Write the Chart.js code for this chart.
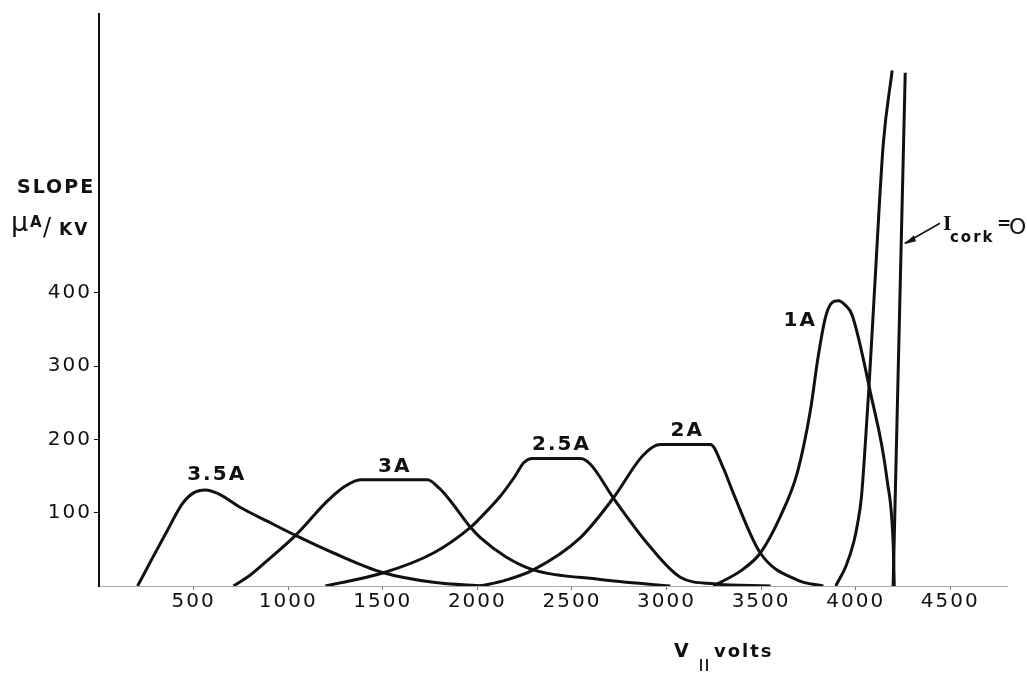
<!DOCTYPE html>
<html>
<head>
<meta charset="utf-8">
<script src="https://cdn.jsdelivr.net/npm/chart.js@4.4.0/dist/chart.umd.min.js"></script>
<style>
  body { margin: 0; background: #fff; }
  canvas { display: block; }
</style>
</head>
<body>
<canvas id="chart" width="1027" height="673"></canvas>
<script>
// slope (uA/kV) against V|| (volts), one pair of arrays per curve
const volts35 = [204, 280, 362, 440, 500, 563, 630, 748, 900, 1039, 1240, 1504, 1768, 2032]
const slope35 = [0, 37, 76, 112, 127, 131, 126, 107, 87, 69, 45, 18, 5, 0]

const volts3 = [711, 800, 891, 1039, 1208, 1300, 1382, 1736, 1800, 1858, 1964, 2016, 2150, 2296, 2650, 3020]
const slope3 = [0, 15, 35, 69, 116, 136, 145, 145, 133, 116, 80, 66, 40, 22, 9, 0]

const volts25 = [1197, 1504, 1768, 1964, 2016, 2120, 2200, 2245, 2290, 2545, 2598, 2719, 2899, 3073, 3250, 3550]
const slope25 = [0, 18, 45, 80, 93, 122, 150, 168, 174, 174, 166, 120, 58, 12, 3, 0]

const volts2 = [2016, 2150, 2296, 2545, 2719, 2862, 2930, 2968, 3232, 3300, 3354, 3496, 3692, 3829]
const slope2 = [0, 8, 22, 66, 120, 174, 190, 193, 193, 161, 126, 45, 8, 0]

const volts1 = [3248, 3400, 3496, 3602, 3692, 3761, 3800, 3839, 3870, 3908, 3945, 3982, 4077, 4167, 4199, 4204]
const slope1 = [0, 22, 45, 95, 155, 240, 310, 365, 385, 389, 383, 369, 265, 143, 53, 0]

const voltsSteep = [3895, 3950, 3990, 4010, 4030, 4050, 4070, 4100, 4146, 4193]
const slopeSteep = [0, 28, 60, 85, 120, 190, 270, 405, 603, 703]

const voltsCork = [4198, 4262]
const slopeCork = [0, 700]

const curveNames = ["3.5A", "3A", "2.5A", "2A", "1A"]
const xTicks = [500, 1000, 1500, 2000, 2500, 3000, 3500, 4000, 4500]
const yTicks = [100, 200, 300, 400]

const ink = "#111"

const toPoints = (xs, ys) => xs.map((v, i) => ({x: v, y: ys[i]}))

const curve = (xs, ys, smooth) => ({
    data: toPoints(xs, ys),
    showLine: true,
    borderColor: ink,
    borderWidth: 3,
    pointRadius: 0,
    fill: false,
    cubicInterpolationMode: smooth ? "monotone" : "default",
    tension: smooth ? 0.4 : 0,
})

// where the curve names sit, in data units
const namePos = [[622, 151], [1563, 162], [2445, 193], [3110, 211], [3707, 362]]

const annotate = {
    id: "annotate",
    beforeDraw(chart) {
        chart.ctx.letterSpacing = "2px"
    },
    afterDraw(chart) {
        const {ctx, scales: {x, y}} = chart
        ctx.save()
        ctx.fillStyle = ink
        ctx.strokeStyle = ink

        // curve names
        ctx.textAlign = "center"
        ctx.textBaseline = "middle"
        ctx.font = 'bold 20px "DejaVu Sans"'
        curveNames.forEach((t, i) => {
            ctx.fillText(t, x.getPixelForValue(namePos[i][0]), y.getPixelForValue(namePos[i][1]))
        })

        // y title
        ctx.textAlign = "left"
        ctx.textBaseline = "alphabetic"
        ctx.font = 'bold 19px "DejaVu Sans"'
        ctx.fillText("SLOPE", 17, 193)
        ctx.font = '27px "DejaVu Sans"'
        ctx.fillText("\u03bc", 11, 231)
        ctx.font = 'bold 15px "DejaVu Sans"'
        ctx.fillText("A", 30, 227)
        ctx.font = '24px "DejaVu Sans"'
        ctx.fillText("/", 43, 235)
        ctx.font = 'bold 17px "DejaVu Sans"'
        ctx.fillText("KV", 59, 235)

        // x title
        ctx.font = 'bold 19px "DejaVu Sans"'
        ctx.fillText("V", 674, 657)
        ctx.lineWidth = 1.8
        ctx.beginPath()
        ctx.moveTo(701, 659); ctx.lineTo(701, 671)
        ctx.moveTo(707, 659); ctx.lineTo(707, 671)
        ctx.stroke()
        ctx.font = 'bold 18px "DejaVu Sans"'
        ctx.fillText("volts", 714, 657)

        // I cork = 0 with arrow onto its line
        const tx = x.getPixelForValue(4250)
        const ty = y.getPixelForValue(466)
        ctx.lineWidth = 1.5
        ctx.beginPath()
        ctx.moveTo(tx + 37, ty - 21)
        ctx.lineTo(tx + 2, ty - 1)
        ctx.stroke()
        ctx.beginPath()
        ctx.moveTo(tx + 1, ty)
        ctx.lineTo(tx + 11, ty - 9)
        ctx.lineTo(tx + 13, ty - 3)
        ctx.closePath()
        ctx.fill()

        ctx.font = 'bold 22px "Liberation Serif"'
        ctx.fillText("I", tx + 40, ty - 14)
        ctx.font = 'bold 15px "DejaVu Sans"'
        ctx.fillText("cork", tx + 47, ty - 2)
        ctx.font = 'bold 17px "DejaVu Sans"'
        ctx.fillText("=", tx + 94, ty - 15)
        ctx.font = '22px "DejaVu Sans"'
        ctx.fillText("O", tx + 106, ty - 10)
        ctx.restore()
    }
}

new Chart(document.querySelector("#chart"), {
    type: "scatter",
    data: {
        datasets: [
            curve(volts35, slope35, true),
            curve(volts3, slope3, true),
            curve(volts25, slope25, true),
            curve(volts2, slope2, true),
            curve(volts1, slope1, true),
            curve(voltsSteep, slopeSteep, true),
            curve(voltsCork, slopeCork, false),
        ]
    },
    options: {
        responsive: false,
        animation: false,
        layout: {padding: {top: 9, right: 20, left: 0, bottom: 0}},
        scales: {
            x: {
                type: "linear",
                min: 0,
                max: 4800,
                afterBuildTicks: (s) => { s.ticks = xTicks.map(v => ({value: v})) },
                afterFit: (s) => { s.height = 87 },
                border: {color: "#aaa", width: 1},
                grid: {drawOnChartArea: false, tickLength: 4, color: "#777"},
                ticks: {
                    color: ink,
                    padding: 0,
                    maxRotation: 0,
                    font: {family: "DejaVu Sans", size: 20},
                    callback: (v) => String(v),
                }
            },
            y: {
                min: 0,
                max: 780,
                afterBuildTicks: (s) => { s.ticks = yTicks.map(v => ({value: v})) },
                afterFit: (s) => { s.width = 99 },
                border: {color: ink, width: 2},
                grid: {drawOnChartArea: false, tickLength: 5, color: ink},
                ticks: {
                    color: ink,
                    padding: 2,
                    font: {family: "DejaVu Sans", size: 20},
                    callback: (v) => String(v),
                }
            }
        },
        plugins: {
            legend: {display: false},
            tooltip: {enabled: false}
        }
    },
    plugins: [annotate]
})
</script>
</body>
</html>
